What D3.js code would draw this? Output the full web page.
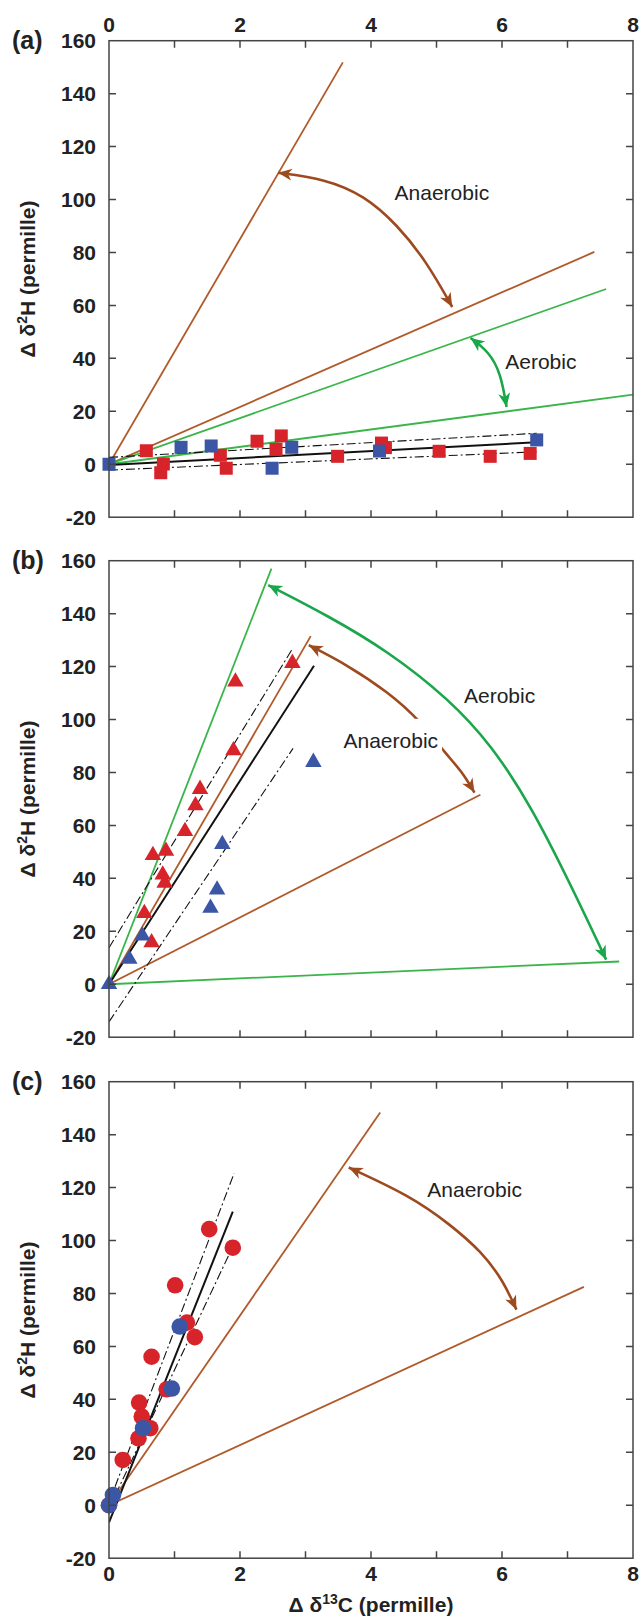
<!DOCTYPE html>
<html>
<head>
<meta charset="utf-8">
<script src="https://cdn.jsdelivr.net/npm/d3@7"></script>
<style>
body { margin: 0; background: #fff; }
svg { display: block; }
text { font-family: "Liberation Sans", Arial, sans-serif; }
</style>
</head>
<body>
<svg width="641" height="1620"></svg>
<script>
// tick values
var xTicks = [0, 1, 2, 3, 4, 5, 6, 7, 8];
var xTickLabels = [0, 2, 4, 6, 8];
var yTicks = [-20, 0, 20, 40, 60, 80, 100, 120, 140, 160];

// panel (a)
var aRed = [[0.57, 5.1], [0.83, 0.1], [0.79, -3.2], [1.70, 3.4], [1.79, -1.5], [2.26, 8.7], [2.63, 10.7],
  [2.55, 5.6], [3.49, 3.0], [4.16, 8.0], [4.22, 6.3], [5.04, 4.9], [5.82, 3.0], [6.43, 4.1]];
var aBlue = [[0, 0], [1.10, 6.4], [1.56, 6.9], [2.49, -1.5], [2.79, 6.4], [4.13, 5.0], [6.53, 9.2]];
var aBrown = [[[0, 0], [3.57, 151.8]], [[0, 0], [7.41, 80.2]]];
var aGreen = [[[0, 0], [7.59, 66.2]], [[0, 0], [8, 26.3]]];
var aFit = [[0, -0.3], [6.53, 8.3]];
var aBand = [[[0, 2.6], [6.53, 11.7]], [[0, -2.2], [6.53, 4.7]]];
var aArrowBrown = [[2.58, 110.1], [3.3, 107.8], [3.9, 101.5], [4.4, 90.5], [4.85, 76.5], [5.24, 59.4]];
var aArrowGreen = [[5.52, 47.7], [5.8, 42.5], [5.98, 34.5], [6.07, 21.6]];

// panel (b)
var bRed = [[0.54, 26.8], [0.65, 15.8], [0.67, 48.7], [0.87, 50.3], [0.82, 41.4], [0.85, 38.3], [1.16, 57.8],
  [1.32, 67.5], [1.39, 73.7], [1.90, 88.3], [1.93, 114.3], [2.80, 121.3]];
var bBlue = [[0, 0], [0.31, 9.5], [0.51, 18.3], [1.55, 28.8], [1.65, 35.7], [1.73, 52.9], [3.12, 83.9]];
var bBrown = [[[0, 0], [3.08, 131.5]], [[0, 0], [5.67, 71.6]]];
var bGreen = [[[0, 0], [2.48, 157]], [[0, 0], [7.79, 8.6]]];
var bFit = [[0, 0], [3.13, 120.3]];
var bBand = [[[0, 13.8], [2.81, 127.1]], [[0, -14.2], [2.81, 89.1]]];
var bArrowGreen = [[2.43, 150.8], [3.33, 139.4], [4.27, 125.7], [5.20, 107.5], [5.83, 90.6], [6.45, 67.2], [7.08, 36.0], [7.59, 9.3]];
var bArrowBrown = [[3.05, 128.1], [3.64, 120.6], [4.27, 110.2], [4.74, 99.8], [5.15, 86.8], [5.39, 80.3], [5.58, 72.4]];

// panel (c)
var cRed = [[0, 0], [0.21, 17.1], [0.46, 38.8], [0.50, 33.5], [0.45, 25.3], [0.63, 29.1], [0.65, 56.1],
  [0.88, 43.8], [1.01, 83.1], [1.19, 69.0], [1.31, 63.5], [1.53, 104.3], [1.89, 97.3]];
var cBlue = [[0, 0], [0.06, 3.9], [0.52, 29.1], [0.96, 44.1], [1.08, 67.5]];
var cBrown = [[[0, 0], [4.14, 148.4]], [[0, 0], [7.25, 82.5]]];
var cFit = [[0, -6.5], [1.89, 110.9]];
var cBand = [[[0, 1], [1.91, 125.4]], [[0.1, 4], [1.89, 97.7]]];
var cArrowBrown = [[3.66, 127.6], [4.58, 117.1], [5.20, 106.3], [5.70, 95.5], [6.02, 84.7], [6.22, 73.9]];

var RED = "#d7232a", BLUE = "#3c56a6", GREEN = "#3ab54a", BROWN = "#b05a2a";
var ARROW_BROWN = "#9e4a1f", ARROW_GREEN = "#1aa64a";

var svg = d3.select("svg");
var left = 109, right = 633, ph = 476.5;
var x = d3.scaleLinear().domain([0, 8]).range([left, right]);

var defs = svg.append("defs");
function marker(id, color) {
  defs.append("marker")
    .attr("id", id)
    .attr("viewBox", "-15 -7 16 14")
    .attr("refX", 0).attr("refY", 0)
    .attr("markerUnits", "userSpaceOnUse")
    .attr("markerWidth", 16).attr("markerHeight", 14)
    .attr("orient", "auto-start-reverse")
    .append("path")
    .attr("d", "M0,0 L-14,-6 L-10,0 L-14,6 Z")
    .attr("fill", color);
}
marker("mBrown", ARROW_BROWN);
marker("mGreen", ARROW_GREEN);

var panels = [
  { label: "(a)", top: 40.7, red: aRed, blue: aBlue, brown: aBrown, green: aGreen, fit: aFit, band: aBand,
    shape: "square", arrows: [[aArrowBrown, "Brown"], [aArrowGreen, "Green"]],
    texts: [["Anaerobic", 4.36, 100, false], ["Aerobic", 6.05, 36, false]], topLabels: true },
  { label: "(b)", top: 560.7, red: bRed, blue: bBlue, brown: bBrown, green: bGreen, fit: bFit, band: bBand,
    shape: "triangle", arrows: [[bArrowGreen, "Green"], [bArrowBrown, "Brown"]],
    texts: [["Aerobic", 5.42, 106.2, false], ["Anaerobic", 3.58, 89.3, true]] },
  { label: "(c)", top: 1081.7, red: cRed, blue: cBlue, brown: cBrown, green: [], fit: cFit, band: cBand,
    shape: "circle", arrows: [[cArrowBrown, "Brown"]],
    texts: [["Anaerobic", 4.86, 116.4, false]], bottomLabels: true }
];

panels.forEach(function (p, i) {
  var y = d3.scaleLinear().domain([-20, 160]).range([p.top + ph, p.top]);
  var g = svg.append("g");
  var clipId = "clip" + i;
  defs.append("clipPath").attr("id", clipId).append("rect")
    .attr("x", left).attr("y", p.top).attr("width", right - left).attr("height", ph);

  var line = d3.line().x(function (d) { return x(d[0]); }).y(function (d) { return y(d[1]); });
  var plot = g.append("g").attr("clip-path", "url(#" + clipId + ")");

  p.brown.forEach(function (l) {
    plot.append("path").attr("d", line(l)).attr("stroke", BROWN).attr("stroke-width", 1.8).attr("fill", "none");
  });
  p.green.forEach(function (l) {
    plot.append("path").attr("d", line(l)).attr("stroke", GREEN).attr("stroke-width", 1.8).attr("fill", "none");
  });
  p.band.forEach(function (l) {
    plot.append("path").attr("d", line(l)).attr("stroke", "#111").attr("stroke-width", 1.1)
      .attr("stroke-dasharray", "9,3,2,3").attr("fill", "none");
  });
  plot.append("path").attr("d", line(p.fit)).attr("stroke", "#111").attr("stroke-width", 2).attr("fill", "none");

  function drawPoints(data, color) {
    if (p.shape === "square") {
      g.selectAll(null).data(data).enter().append("rect")
        .attr("x", function (d) { return x(d[0]) - 6.5; })
        .attr("y", function (d) { return y(d[1]) - 6.5; })
        .attr("width", 13).attr("height", 13).attr("fill", color);
    } else if (p.shape === "circle") {
      g.selectAll(null).data(data).enter().append("circle")
        .attr("cx", function (d) { return x(d[0]); })
        .attr("cy", function (d) { return y(d[1]); })
        .attr("r", 8.3).attr("fill", color);
    } else {
      g.selectAll(null).data(data).enter().append("path")
        .attr("d", d3.symbol().type(d3.symbolTriangle).size(118))
        .attr("transform", function (d) { return "translate(" + x(d[0]) + "," + y(d[1]) + ")"; })
        .attr("fill", color);
    }
  }
  drawPoints(p.red, RED);
  drawPoints(p.blue, BLUE);

  var curve = d3.line().curve(d3.curveBasis)
    .x(function (d) { return x(d[0]); }).y(function (d) { return y(d[1]); });
  p.arrows.forEach(function (a) {
    g.append("path").attr("d", curve(a[0]))
      .attr("stroke", a[1] === "Brown" ? ARROW_BROWN : ARROW_GREEN)
      .attr("stroke-width", 2.6).attr("fill", "none")
      .attr("marker-start", "url(#m" + a[1] + ")")
      .attr("marker-end", "url(#m" + a[1] + ")");
  });

  p.texts.forEach(function (t) {
    var txt = g.append("text").attr("x", x(t[1])).attr("y", y(t[2]))
      .attr("font-size", 21).attr("fill", "#222").text(t[0]);
    if (t[3]) {
      var bb = txt.node().getBBox();
      g.insert("rect", function () { return txt.node(); })
        .attr("x", bb.x - 4).attr("y", bb.y - 10).attr("width", bb.width + 8).attr("height", bb.height + 20)
        .attr("fill", "#fff");
    }
  });

  // frame
  g.append("rect").attr("x", left).attr("y", p.top).attr("width", right - left).attr("height", ph)
    .attr("fill", "none").attr("stroke", "#444").attr("stroke-width", 1.5);

  var yb = p.top + ph;
  g.selectAll(null).data(xTicks.slice(1, -1)).enter().append("path")
    .attr("d", function (d) {
      return "M" + x(d) + "," + yb + "v-7M" + x(d) + "," + p.top + "v7";
    })
    .attr("stroke", "#444").attr("stroke-width", 1.5);
  g.selectAll(null).data(yTicks.slice(1, -1)).enter().append("path")
    .attr("d", function (d) {
      return "M" + left + "," + y(d) + "h7M" + right + "," + y(d) + "h-7";
    })
    .attr("stroke", "#444").attr("stroke-width", 1.5);

  g.selectAll(null).data(yTicks).enter().append("text")
    .attr("x", 96).attr("y", function (d) { return y(d); }).attr("dy", "0.36em")
    .attr("text-anchor", "end").attr("font-size", 21).attr("font-weight", "bold").attr("fill", "#222")
    .text(function (d) { return d; });

  if (p.topLabels) {
    g.selectAll(null).data(xTickLabels).enter().append("text")
      .attr("x", function (d) { return x(d); }).attr("y", p.top - 9)
      .attr("text-anchor", "middle").attr("font-size", 21).attr("font-weight", "bold").attr("fill", "#222")
      .text(function (d) { return d; });
  }
  if (p.bottomLabels) {
    g.selectAll(null).data(xTickLabels).enter().append("text")
      .attr("x", function (d) { return x(d); }).attr("y", yb + 23)
      .attr("text-anchor", "middle").attr("font-size", 21).attr("font-weight", "bold").attr("fill", "#222")
      .text(function (d) { return d; });
    var xt = g.append("text").attr("x", (left + right) / 2).attr("y", yb + 54)
      .attr("text-anchor", "middle").attr("font-size", 21).attr("font-weight", "bold").attr("fill", "#222");
    xt.append("tspan").text("\u0394 \u03b4");
    xt.append("tspan").attr("font-size", 14).attr("dy", -8).text("13");
    xt.append("tspan").attr("dy", 8).text("C (permille)");
  }

  g.append("text").attr("x", 12).attr("y", p.top + 8.5)
    .attr("font-size", 25).attr("font-weight", "bold").attr("fill", "#222").text(p.label);

  var yt = g.append("text")
    .attr("transform", "translate(35," + (p.top + ph / 2) + ") rotate(-90)")
    .attr("text-anchor", "middle").attr("font-size", 21).attr("font-weight", "bold").attr("fill", "#222");
  yt.append("tspan").text("\u0394 \u03b4");
  yt.append("tspan").attr("font-size", 14).attr("dy", -8).text("2");
  yt.append("tspan").attr("dy", 8).text("H (permille)");
});
</script>
</body>
</html>
